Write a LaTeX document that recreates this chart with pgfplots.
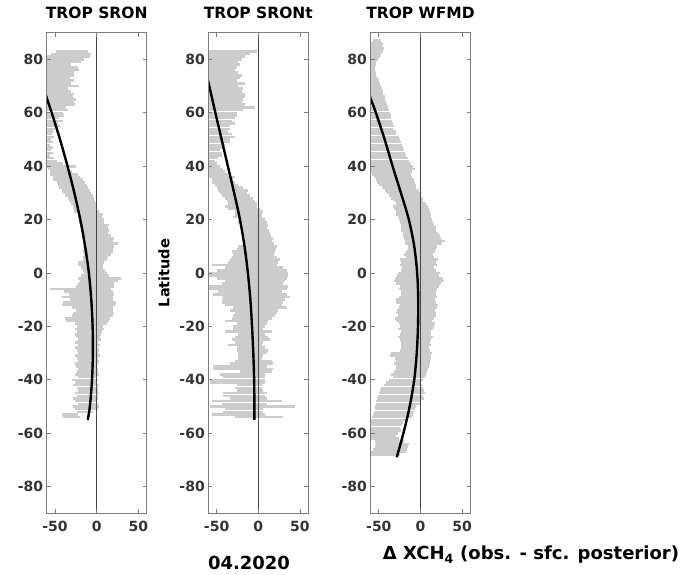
\documentclass[border=0pt]{standalone}
\usepackage{fontspec}
\setmainfont{DejaVu Sans}
\usepackage{pgfplots}
\usepackage{pgfplotstable}
\pgfplotsset{compat=1.18}
\definecolor{barcol}{RGB}{204,204,204}
\definecolor{axgray}{RGB}{125,125,125}
\definecolor{zerocol}{RGB}{70,70,70}
\definecolor{labgray}{RGB}{51,51,51}

\pgfplotstableread{
lat lo hi
83 -49 -11
82 -55 -7
81 -70 -8
80 -70 -15
79 -70 -19
78 -70 -31
77 -70 -23
76 -70 -21
75 -70 -27
74 -70 -27
73 -70 -32
72 -70 -27
71 -70 -31
70 -70 -21
69 -70 -35
68 -70 -31
67 -70 -27
66 -70 -29
65 -70 -25
64 -70 -27
63 -70 -26
62 -70 -37
61 -70 -35
60 -70 -41
59 -70 -39
58 -70 -45
57 -70 -41
56 -70 -47
55 -70 -44
54 -70 -50
53 -70 -52
52 -70 -54
51 -70 -51
50 -70 -55
49 -70 -53
48 -70 -56
47 -70 -52
46 -70 -55
45 -70 -53
44 -70 -56
43 -70 -51
42 -70 -48
41 -70 -40
40 -70 -25
39 -58 -33
38 -56 -30
37 -56 -23
36 -53 -20
35 -52 -17
34 -48 -14
33 -46 -12
32 -45 -11
31 -42 -8
30 -40 -7
29 -38 -5
28 -35 -3
27 -33 -2
26 -31 -1
25 -29 0
24 -29 -1
23 -27 3
22 -23 7
21 -23 6
20 -21 9
19 -21 9
18 -19 15
17 -19 14
16 -18 15
15 -17 13
14 -16 17
13 -16 21
12 -15 19
11 -15 25
10 -16 21
9 -15 19
8 -16 20
7 -15 17
6 -17 13
5 -17 12
4 -23 9
3 -23 7
2 -19 8
1 -17 10
0 -15 12
-1 -19 15
-2 -23 29
-3 -20 26
-4 -22 21
-5 -25 21
-6 -56 17
-7 -39 20
-8 -33 21
-9 -42 19
-10 -32 20
-11 -41 23
-12 -42 22
-13 -30 20
-14 -25 20
-15 -29 21
-16 -30 20
-17 -38 16
-18 -37 15
-19 -26 12
-20 -24 8
-21 -26 9
-22 -24 6
-23 -26 5
-24 -25 4
-25 -22 5
-26 -26 2
-27 -23 4
-28 -26 2
-29 -24 3
-30 -23 2
-31 -26 4
-32 -24 2
-33 -22 3
-34 -26 1
-35 -25 0
-36 -23 2
-37 -24 1
-38 -26 3
-39 -22 0
-40 -30 2
-41 -26 -1
-42 -28 3
-43 -24 1
-44 -22 2
-45 -26 3
-46 -24 1
-47 -28 2
-48 -26 0
-49 -22 1
-50 -28 3
-51 -26 2
-52 -24 -4
-53 -42 -22
-54 -40 -20
}\tabA

\pgfplotstableread{
lat lo hi
83 -70 -1
82 -70 -10
81 -70 -16
80 -70 -20
79 -70 -24
78 -70 -22
77 -70 -26
76 -70 -28
75 -70 -24
74 -70 -20
73 -70 -22
72 -70 -26
71 -70 -16
70 -70 -24
69 -70 -18
68 -70 -20
67 -70 -16
66 -70 -16
65 -70 -18
64 -70 -20
63 -70 -16
62 -70 -4
61 -70 -18
60 -70 -26
59 -70 -26
58 -70 -28
57 -70 -32
56 -70 -28
55 -70 -34
54 -70 -34
53 -70 -36
52 -70 -32
51 -70 -28
50 -70 -34
49 -70 -34
48 -70 -40
47 -70 -42
46 -70 -46
45 -70 -44
44 -70 -44
43 -70 -48
42 -70 -52
41 -70 -50
40 -70 -46
39 -70 -42
38 -70 -40
37 -70 -36
36 -70 -28
35 -56 -30
34 -56 -28
33 -52 -24
32 -50 -18
31 -48 -12
30 -46 -14
29 -44 -10
28 -40 -6
27 -38 -4
26 -36 -2
25 -40 -2
24 -36 2
23 -28 6
22 -28 4
21 -30 4
20 -24 8
19 -24 10
18 -20 12
17 -20 11
16 -20 13
15 -18 14
14 -18 15
13 -16 18
12 -16 17
11 -18 19
10 -24 22
9 -26 21
8 -32 20
7 -30 19
6 -32 22
5 -34 26
4 -36 24
3 -56 22
2 -40 30
1 -50 34
0 -62 36
-1 -62 36
-2 -50 34
-3 -40 32
-4 -44 30
-5 -62 36
-6 -62 34
-7 -48 28
-8 -54 34
-9 -42 38
-10 -44 32
-11 -44 30
-12 -40 28
-13 -30 34
-14 -34 24
-15 -28 22
-16 -30 20
-17 -32 16
-18 -40 12
-19 -26 10
-20 -30 8
-21 -30 6
-22 -40 16
-23 -24 8
-24 -28 12
-25 -32 14
-26 -28 6
-27 -36 4
-28 -26 8
-29 -26 12
-30 -24 10
-31 -24 6
-32 -24 4
-33 -28 16
-34 -34 18
-35 -54 10
-36 -54 18
-37 -22 16
-38 -46 8
-39 -42 8
-40 -58 8
-41 -58 8
-42 -26 4
-43 -28 4
-44 -26 6
-45 -42 10
-46 -42 8
-47 -34 10
-48 -56 28
-49 -44 10
-50 -58 44
-51 -40 6
-52 -42 6
-53 -56 8
-54 -28 30
}\tabB

\pgfplotstableread{
lat lo hi
87 -57 -47
86 -62 -45
85 -70 -46
84 -70 -44
83 -70 -45
82 -70 -47
81 -70 -49
80 -70 -51
79 -70 -53
78 -70 -54
77 -70 -55
76 -70 -55
75 -70 -54
74 -70 -53
73 -70 -51
72 -70 -50
71 -70 -49
70 -70 -48
69 -70 -46
68 -70 -45
67 -70 -45
66 -70 -43
65 -70 -43
64 -70 -42
63 -70 -40
62 -70 -39
61 -70 -38
60 -70 -37
59 -70 -36
58 -70 -35
57 -70 -34
56 -70 -33
55 -70 -32
54 -70 -33
53 -70 -30
52 -70 -29
51 -70 -26
50 -70 -25
49 -70 -23
48 -70 -22
47 -70 -21
46 -70 -20
45 -70 -19
44 -70 -17
43 -70 -15
42 -70 -14
41 -70 -11
40 -70 -9
39 -70 -7
38 -70 -10
37 -58 -11
36 -56 -10
35 -54 -8
34 -52 -7
33 -50 -6
32 -46 -6
31 -43 -2
30 -40 -1
29 -38 1
28 -35 3
27 -32 3
26 -29 7
25 -33 9
24 -32 10
23 -29 11
22 -29 12
21 -27 13
20 -26 14
19 -25 15
18 -24 16
17 -23 18
16 -23 19
15 -21 21
14 -21 23
13 -20 24
12 -19 29
11 -19 26
10 -15 20
9 -15 19
8 -18 17
7 -20 15
6 -18 16
5 -25 21
4 -23 19
3 -25 20
2 -22 16
1 -24 18
0 -27 23
-1 -28 22
-2 -31 27
-3 -32 28
-4 -30 25
-5 -25 22
-6 -26 20
-7 -23 19
-8 -24 18
-9 -26 20
-10 -29 17
-11 -30 18
-12 -25 21
-13 -26 20
-14 -28 17
-15 -29 19
-16 -27 18
-17 -31 16
-18 -29 14
-19 -26 17
-20 -25 16
-21 -27 15
-22 -23 13
-23 -25 12
-24 -27 15
-25 -25 13
-26 -24 11
-27 -23 12
-28 -23 10
-29 -25 11
-30 -35 14
-31 -37 13
-32 -31 12
-33 -30 11
-34 -32 11
-35 -30 10
-36 -29 9
-37 -32 8
-38 -35 6
-39 -33 5
-40 -38 3
-41 -41 1
-42 -44 2
-43 -48 3
-44 -49 4
-45 -50 5
-46 -51 3
-47 -52 4
-48 -53 0
-49 -53 -1
-50 -55 -5
-51 -55 -7
-52 -56 -8
-53 -57 -9
-54 -58 -10
-55 -62 -18
-56 -70 -21
-57 -70 -22
-58 -70 -25
-59 -70 -24
-60 -70 -27
-61 -70 -29
-62 -70 -26
-63 -55 -20
-64 -53 -14
-65 -55 -15
-66 -57 -16
-67 -60 -17
-68 -60 -25
}\tabC

\pgfplotsset{
  panel/.style={
    scale only axis, width=100pt, height=480.6pt,
    anchor=south west,
    xmin=-60, xmax=60, ymin=-90, ymax=90,
    xtick={-50,0,50}, ytick={-80,-60,...,80},
    tick align=inside, major tick length=4pt,
    axis on top,
    axis line style={draw=axgray, line width=0.8pt},
    every tick/.style={draw=axgray, line width=0.8pt},
    tick label style={font=\fontsize{14}{14}\selectfont\bfseries, text=labgray},
    xticklabel style={yshift=-4pt},
    /pgf/number format/assume math mode=true,
    title style={font=\fontsize{15.5}{16}\selectfont\bfseries, at={(axis description cs:0.5,1)}, anchor=base, yshift=8pt, inner sep=0pt},
  },
  bars/.style={draw=none, mark=none, forget plot,
    error bars/.cd, x dir=both, x explicit, error mark=none,
    error bar style={draw=barcol, line width=2.6pt}},
  zline/.style={zerocol, line width=0.7pt, forget plot},
  fit/.style={black, line width=2.4pt, smooth, mark=none},
}

\begin{document}
\begin{tikzpicture}
\useasboundingbox (0,0) rectangle (682pt,574pt);

\begin{axis}[panel, at={(46.7pt,60.7pt)}, title={TROP SRON}]
\addplot[bars] table[x expr={(\thisrow{lo}+\thisrow{hi})/2}, y=lat, x error expr={(\thisrow{hi}-\thisrow{lo})/2}]{\tabA};
\addplot[zline] coordinates {(0,-90) (0,90)};
\addplot[fit] coordinates {(-61.5,67) (-54,60) (-44,50) (-35,40) (-26.8,30) (-19.7,20) (-13.9,10) (-9.4,0) (-6.5,-10) (-4.9,-20) (-4.6,-30) (-5.6,-40) (-8.2,-50) (-10.8,-55)};
\end{axis}

\begin{axis}[panel, at={(208.3pt,60.7pt)}, title={TROP SRONt},
  ylabel={Latitude},
  ylabel style={font=\fontsize{14.5}{15}\selectfont\bfseries, at={(axis description cs:-0.443,0.5)}, anchor=center, rotate=0},
  xlabel={04.2020},
  xlabel style={font=\fontsize{18}{18}\selectfont\bfseries, at={(axis description cs:0.407,-0.103)}, anchor=center}]
\addplot[bars] table[x expr={(\thisrow{lo}+\thisrow{hi})/2}, y=lat, x error expr={(\thisrow{hi}-\thisrow{lo})/2}]{\tabB};
\addplot[zline] coordinates {(0,-90) (0,90)};
\addplot[fit] coordinates {(-61,73) (-60,71.6) (-51.5,60) (-44,50) (-36.5,40) (-29,30) (-22,20) (-16.5,10) (-12.5,0) (-9.5,-10) (-7.5,-20) (-6,-30) (-5,-40) (-4.7,-50) (-4.7,-55)};
\end{axis}

\begin{axis}[panel, at={(370.5pt,60.7pt)}, title={TROP WFMD},
  xlabel={Δ XCH\textsubscript{4} (obs. - sfc. posterior)},
  xlabel style={font=\fontsize{18}{18}\selectfont\bfseries, at={(axis description cs:1.605,-0.097)}, anchor=base}]
\addplot[bars] table[x expr={(\thisrow{lo}+\thisrow{hi})/2}, y=lat, x error expr={(\thisrow{hi}-\thisrow{lo})/2}]{\tabC};
\addplot[zline] coordinates {(0,-90) (0,90)};
\addplot[fit] coordinates {(-61,66.5) (-60,65.5) (-53.5,60) (-43,50) (-33.5,40) (-23.5,30) (-14,20) (-7.5,10) (-4,0) (-2.7,-10) (-3,-20) (-4.5,-30) (-7.5,-40) (-13,-50) (-20.5,-60) (-28.5,-69)};
\end{axis}
\end{tikzpicture}
\end{document}
